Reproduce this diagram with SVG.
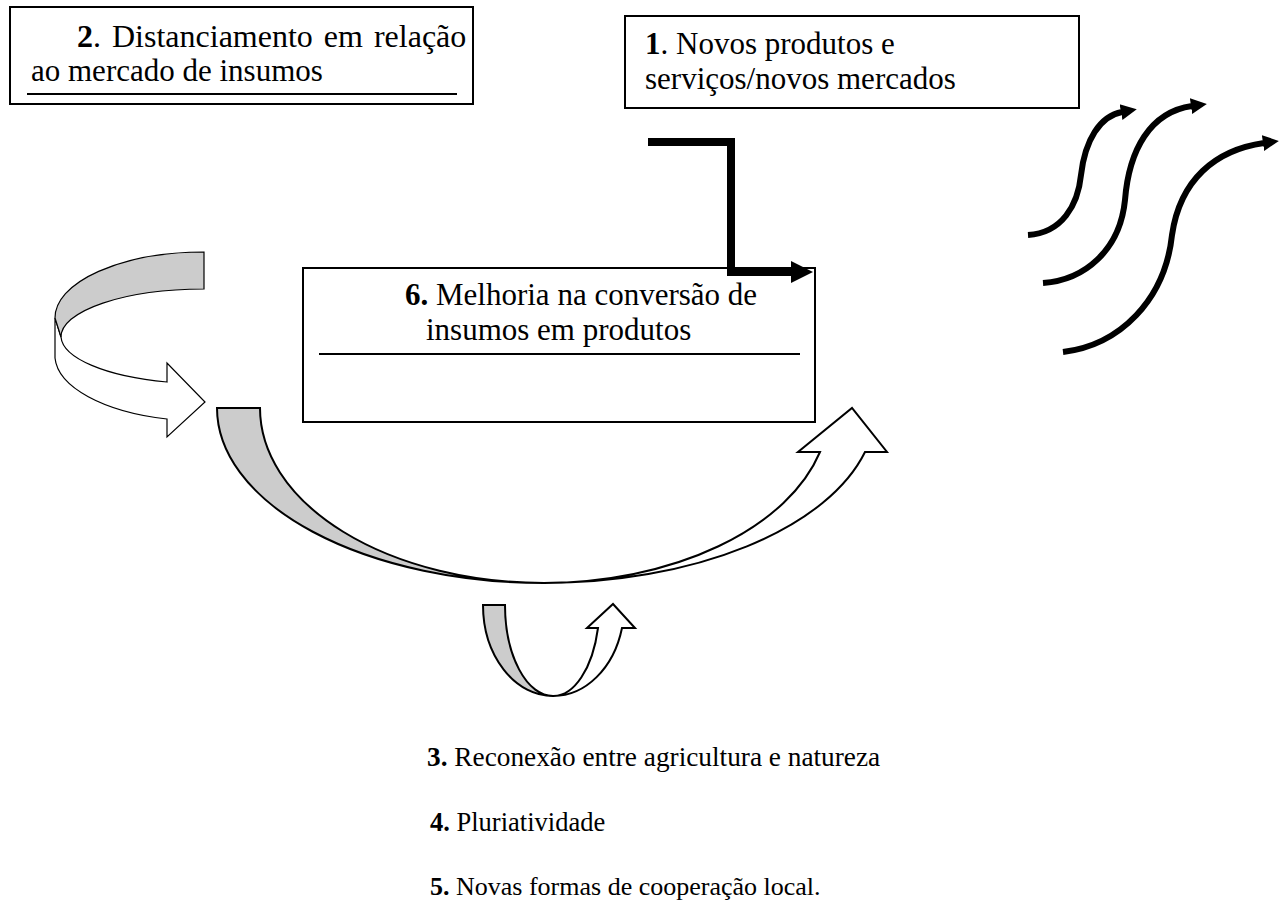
<svg xmlns="http://www.w3.org/2000/svg" width="1288" height="910" viewBox="0 0 1288 910">
  <style>
    .box { fill: #ffffff; stroke: #000000; stroke-width: 2; }
    .rule { stroke: #000000; stroke-width: 2; }
    .lbl { font-family: "Liberation Serif", "Times New Roman", serif; font-size: 31px; fill: #000000; }
    .note { font-family: "Liberation Serif", "Times New Roman", serif; font-size: 26.5px; fill: #000000; }
    .b { font-weight: bold; }
    .band-back { fill: #cccccc; stroke: #000000; }
    .band-front { fill: #ffffff; stroke: #000000; }
    .thin { stroke-width: 1.2; }
    .mid { stroke-width: 2; }
    .wave { fill: none; stroke: #000000; stroke-width: 6; }
    .elbow { fill: none; stroke: #000000; stroke-width: 8; }
  </style>
  <defs>
    <marker id="head" markerUnits="userSpaceOnUse" markerWidth="16" markerHeight="18" refX="1" refY="9" orient="auto">
      <path d="M0,1 L16,9 L0,17 Z" fill="#000000"/>
    </marker>
  </defs>
  <rect width="1288" height="910" fill="#ffffff"/>

  <!-- Box 2 -->
  <g id="node-2">
    <rect class="box" x="10" y="7" width="463" height="97"/>
    <text class="lbl" x="77" y="47" style="font-size:32px" word-spacing="3"><tspan class="b">2</tspan>. Distanciamento em relação</text>
    <text class="lbl" x="31" y="81">ao mercado de insumos</text>
    <line class="rule" x1="27" y1="94" x2="457" y2="94"/>
  </g>

  <!-- Box 1 -->
  <g id="node-1">
    <rect class="box" x="625" y="16" width="454" height="92"/>
    <text class="lbl" x="645" y="54"><tspan class="b">1</tspan>. Novos produtos e</text>
    <text class="lbl" x="645" y="89">serviços/novos mercados</text>
  </g>

  <!-- Box 6 -->
  <g id="node-6">
    <rect class="box" x="303" y="268" width="512" height="154"/>
    <text class="lbl" x="405" y="305"><tspan class="b">6.</tspan> Melhoria na conversão de</text>
    <text class="lbl" x="426" y="340">insumos em produtos</text>
    <line class="rule" x1="319" y1="354" x2="800" y2="354"/>
  </g>

  <!-- Bottom list -->
  <g id="node-3">
    <text class="note" x="427" y="766" style="font-size:27.3px"><tspan class="b">3.</tspan> Reconexão entre agricultura e natureza</text>
  </g>
  <g id="node-4">
    <text class="note" x="430" y="831"><tspan class="b">4.</tspan> Pluriatividade</text>
  </g>
  <g id="node-5">
    <text class="note" x="430" y="895" style="font-size:26px"><tspan class="b">5.</tspan> Novas formas de cooperação local.</text>
  </g>

  <g id="connectors">
    <!-- elbow arrow from box 1 into box 6 -->
    <path class="elbow" d="M648,142 H731 V272 H793"/>
    <polygon points="791,261 813,272 791,283" fill="#000000"/>

    <!-- wavy arrows -->
    <path class="wave" marker-end="url(#head)" d="M1028,235 C1062,233 1078,205 1081,175 C1085,140 1100,116 1122,112"/>
    <path class="wave" marker-end="url(#head)" d="M1043,283 C1085,280 1120,250 1125,200 C1129,150 1150,112 1192,106"/>
    <path class="wave" marker-end="url(#head)" d="M1063,352 C1120,345 1165,300 1172,235 C1180,180 1215,150 1264,143"/>

    <!-- left ribbon arrow -->
    <path class="band-front thin" d="M55,318 L55,358 A149,66 0 0 0 167,419 L167,437 L205,402 L167,363 L167,382 A143,48 0 0 1 61,337 Z"/>
    <path class="band-back thin" d="M204,252 L204,289 A143,48 0 0 0 61,337 L55,318 A149,66 0 0 1 204,252 Z"/>

    <!-- large U ribbon arrow -->
    <path class="band-front mid" d="M544,583 A332,175 0 0 0 865,452 L887,452 L852,408 L798,452 L820,452 A286,175 0 0 1 544,583 Z"/>
    <path class="band-back mid" d="M217,408 L260,408 A284,175 0 0 0 544,583 A327,175 0 0 1 217,408 Z"/>

    <!-- small U ribbon arrow -->
    <path class="band-front mid" d="M553,696 A71,91 0 0 0 622,628 L635,628 L613,604 L587,628 L598,628 A46,91 0 0 1 553,696 Z"/>
    <path class="band-back mid" d="M483,605 L505,605 A48,91 0 0 0 553,696 A70,91 0 0 1 483,605 Z"/>
  </g>
</svg>
